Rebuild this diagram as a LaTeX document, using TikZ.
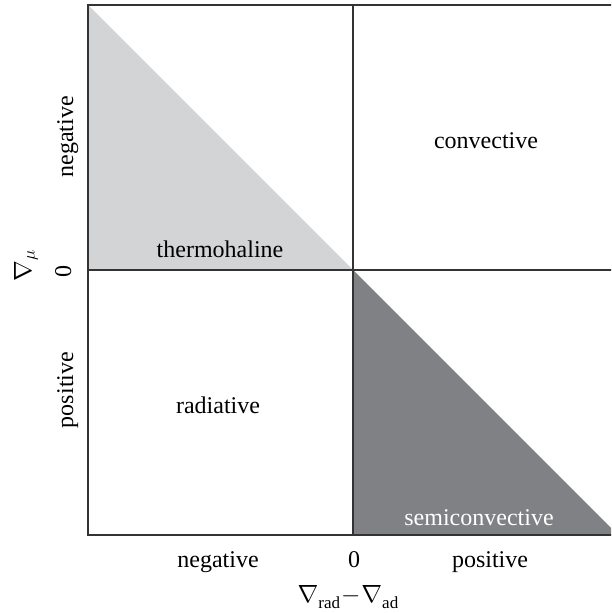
\documentclass[tikz,border=0pt]{standalone}
\usepackage{fontspec}
\setmainfont{Liberation Serif}
\definecolor{lightfill}{HTML}{D3D4D6}
\definecolor{darkfill}{HTML}{808184}
\definecolor{framecol}{HTML}{333333}
\newcommand{\mysub}[1]{\raisebox{-6pt}{\fontsize{17}{17}\selectfont #1}}
\begin{document}
\begin{tikzpicture}[x=1pt,y=-1pt,
  lbl/.style={inner sep=0pt,anchor=base,font=\fontsize{24}{28}\selectfont},
  frameline/.style={draw=framecol,line width=1.8pt}]
\clip (0,0) rectangle (611,613);
% coordinates
\coordinate (tl) at (88,5);
\coordinate (bl) at (88,535);
\coordinate (br) at (618,535);
\coordinate (tr) at (618,5);
\coordinate (c) at (353,270);
\coordinate (lm) at (88,270);
\coordinate (rm) at (618,270);
\coordinate (tm) at (353,5);
\coordinate (bm) at (353,535);
% fills
\fill[lightfill] (tl) -- (lm) -- (c) -- cycle;
\fill[darkfill] (c) -- (bm) -- (br) -- cycle;
% frame and axes
\draw[frameline] (tl) rectangle (br);
\draw[frameline] (tm) -- (bm);
\draw[frameline] (lm) -- (rm);
% region labels
\node[lbl] (conv) at (486,148) {convective};
\node[lbl] (thermo) at (220,257) {thermohaline};
\node[lbl] (rad) at (218,413) {radiative};
\node[lbl,text=white] (semi) at (479,525) {semiconvective};
% bottom axis
\node[lbl] (xneg) at (218,567) {negative};
\node[lbl] (xzero) at (354,567) {0};
\node[lbl] (xpos) at (490,567) {positive};
\node[lbl] (xlab) at (348,602) {$\nabla$\mysub{rad}\kern1pt$-$\kern1pt$\nabla$\mysub{ad}};
% left axis
\node[lbl,rotate=90] (yneg) at (73,137) {negative};
\node[lbl,rotate=90] (yzero) at (71,271) {0};
\node[lbl,rotate=90] (ypos) at (73,390) {positive};
\node[lbl,rotate=90] (ylab) at (31,266) {$\nabla_{\mu}$};
\end{tikzpicture}
\end{document}
